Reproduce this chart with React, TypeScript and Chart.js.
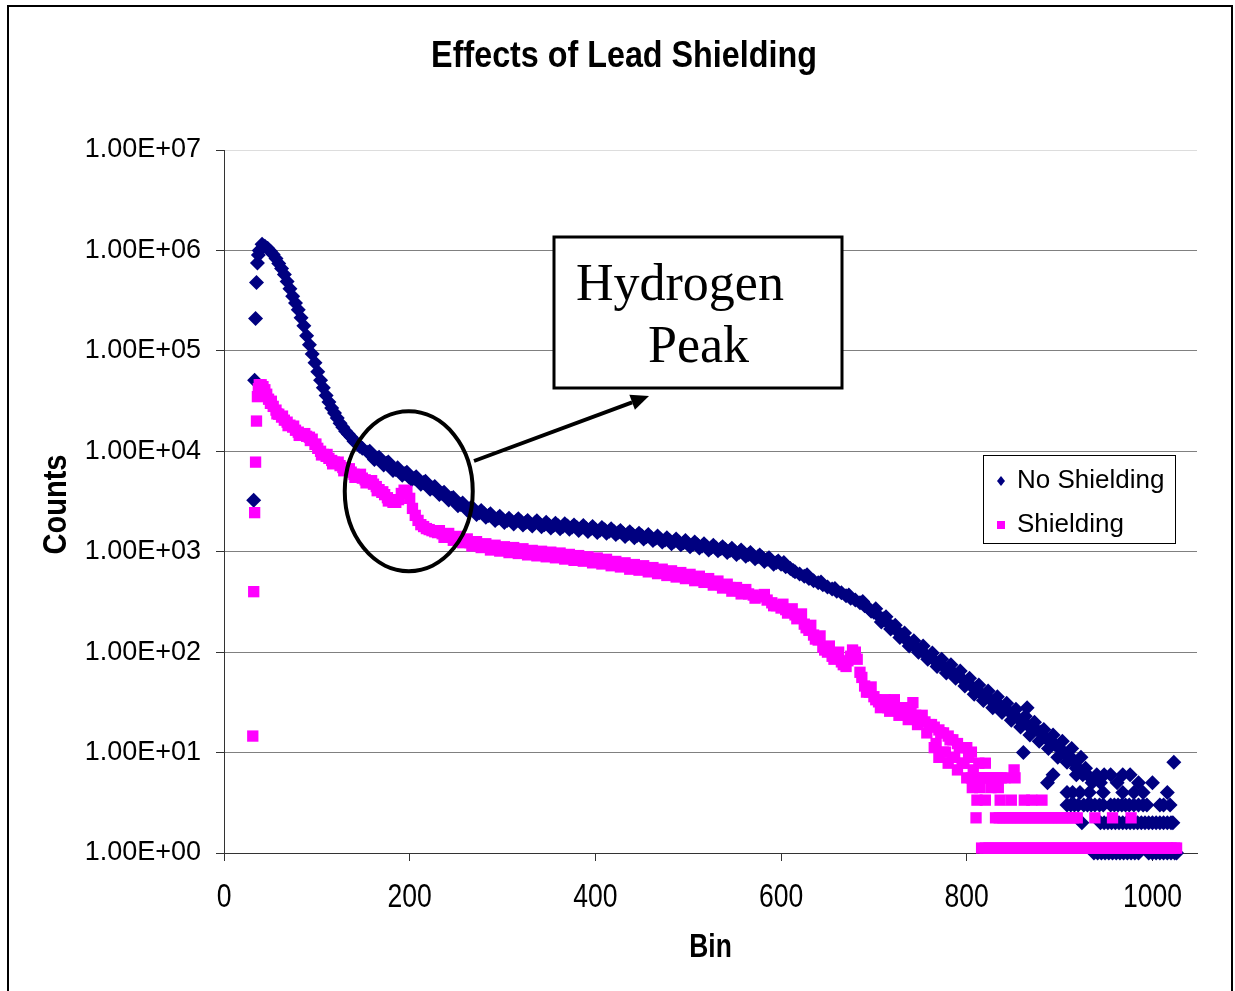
import React, { useEffect, useRef } from "react";
import { Chart, registerables } from "chart.js";

Chart.register(...registerables);

// ---------------- text ----------------
const chartTitle = "Effects of Lead Shielding";
const xAxisTitle = "Bin";
const yAxisTitle = "Counts";
const seriesNames = ["No Shielding", "Shielding"];
const annotationLines = ["Hydrogen", "Peak"];

// ---------------- ticks ----------------
const xTickValues = [0, 200, 400, 600, 800, 1000];
const xTickLabels = ["0", "200", "400", "600", "800", "1000"];
const yTickValues = [1, 10, 100, 1000, 10000, 100000, 1000000, 10000000];
const yTickLabels = ["1.00E+00", "1.00E+01", "1.00E+02", "1.00E+03", "1.00E+04", "1.00E+05", "1.00E+06", "1.00E+07"];

type P = [number, number]; // [bin, counts]

// ---------------- No Shielding ----------------
const noShieldingRise: P[] = [
  [32, 3260], [33, 51000], [34, 210000], [35, 480000], [36, 750000], [37, 900000],
];
const noShieldingCurve: P[] = [
  [38, 1000000], [41, 1150000], [44, 1100000], [47, 1050000], [50, 980000], [53, 910000], [56, 830000], [59, 740000],
  [62, 660000], [65, 575000], [68, 490000], [71, 415000], [74, 350000], [77, 300000], [80, 257000], [83, 214000],
  [86, 178000], [89, 141000], [92, 115000], [95, 93000], [98, 76000], [101, 62000], [104, 51000], [107, 43000],
  [110, 36000], [113, 31000], [116, 27000], [119, 24000], [122, 21400], [125, 19000], [128, 17400], [131, 15800],
  [134, 14800], [137, 13800], [140, 12600], [143, 12000], [146, 11200], [149, 10700],
  [155, 9800], [160, 9100], [165, 8500], [170, 7900], [175, 7600], [180, 7100], [185, 6600], [190, 6300],
  [195, 6000], [200, 5700], [205, 5400], [210, 5100], [215, 4900], [220, 4600], [225, 4300], [230, 4100],
  [235, 3800], [240, 3550], [245, 3400], [250, 3150], [255, 2950], [260, 2800], [265, 2700], [270, 2550],
  [275, 2450], [280, 2400], [285, 2300], [290, 2200], [295, 2150], [300, 2100], [305, 2050], [310, 2000],
  [315, 2030], [320, 1990], [325, 1950], [330, 1900], [335, 1940], [340, 1890], [345, 1860], [350, 1850],
  [355, 1820], [360, 1810], [365, 1780], [370, 1800], [375, 1760], [380, 1740], [385, 1730], [390, 1700],
  [395, 1690], [400, 1660], [405, 1640], [410, 1650], [415, 1600], [420, 1590], [425, 1560], [430, 1520],
  [435, 1510], [440, 1480], [445, 1450], [450, 1440], [455, 1410], [460, 1380], [465, 1360], [470, 1340],
  [475, 1310], [480, 1290], [485, 1270], [490, 1250], [495, 1230], [500, 1200], [505, 1180], [510, 1170],
  [515, 1140], [520, 1120], [525, 1100], [530, 1090], [535, 1070], [540, 1050], [545, 1030], [550, 1010],
  [555, 990], [560, 970], [565, 940], [570, 910], [575, 890], [580, 870], [585, 840], [590, 810],
  [595, 780], [600, 750], [605, 710], [610, 680], [615, 630], [620, 600], [625, 570], [630, 540],
  [635, 515], [640, 490], [645, 470], [650, 445], [655, 425], [660, 405], [665, 390], [670, 365],
  [675, 345], [680, 330], [685, 310], [690, 290], [695, 270], [700, 250], [705, 230], [710, 215],
  [715, 195], [720, 178], [725, 162], [730, 148], [735, 132], [740, 120], [745, 112], [750, 105],
  [755, 96], [760, 89], [765, 83], [770, 78], [775, 72], [780, 68], [785, 63], [790, 59],
  [795, 54], [800, 50], [805, 46], [810, 43], [815, 39], [820, 36], [825, 34], [830, 32],
  [835, 30], [840, 28], [845, 26], [850, 24], [855, 22], [860, 21], [865, 19], [870, 18],
  [875, 17], [880, 16], [885, 14], [890, 13], [895, 12], [900, 11], [905, 10], [910, 9],
  [915, 8], [920, 7], [925, 6],
];
// bin-to-bin fluctuation (150-600)
const noShieldingNoise: P[] = [
  [157, 10000], [162, 8270], [167, 8700], [172, 7300], [177, 7800], [182, 6440], [187, 6840], [192, 5780],
  [197, 6200], [202, 5220], [207, 5570], [212, 4700], [217, 5040], [222, 4180], [227, 4450], [232, 3710],
  [237, 3900], [242, 3270], [247, 3470], [252, 2870], [257, 3050], [262, 2590], [267, 2780], [272, 2350],
  [277, 2570], [282, 2210], [287, 2390], [292, 2050], [297, 2250], [302, 1950], [307, 2150], [312, 1890],
  [317, 2130], [322, 1850], [327, 2040], [332, 1800], [337, 2030], [342, 1770], [347, 1970], [352, 1720],
  [357, 1920], [362, 1690], [367, 1900], [372, 1670], [377, 1850], [382, 1630], [387, 1820], [392, 1590],
  [397, 1780], [402, 1550], [407, 1740], [412, 1530], [417, 1690], [422, 1480], [427, 1630], [432, 1420],
  [437, 1580], [442, 1380], [447, 1530], [452, 1340], [457, 1480], [462, 1290], [467, 1430], [472, 1250],
  [477, 1380], [482, 1200], [487, 1340], [492, 1170], [497, 1290], [502, 1120], [507, 1250], [512, 1090],
  [517, 1200], [522, 1040], [527, 1160], [532, 1020], [537, 1120], [542, 980], [547, 1080], [552, 940],
  [557, 1040], [562, 900], [567, 980], [572, 850], [577, 930], [582, 800], [587, 870], [592, 750],
  [597, 810],
];
const noShieldingScatter: P[] = [
  [603, 780], [613, 650], [628, 590], [643, 500], [658, 430], [673, 370], [688, 320], [697, 255],
  [702, 270], [708, 200], [713, 225], [718, 170], [723, 185], [728, 140], [733, 155], [738, 115],
  [743, 130], [748, 100], [753, 115], [758, 85], [763, 98], [768, 72], [773, 85], [778, 62],
  [783, 75], [788, 55], [793, 65], [798, 46], [803, 55], [808, 38], [813, 47], [818, 33],
  [823, 41], [828, 28], [833, 36], [838, 25], [843, 31], [848, 21], [853, 27], [858, 18],
  [863, 23], [868, 15], [873, 20], [878, 13], [883, 17], [888, 11], [893, 15], [898, 9],
  [903, 13], [908, 8], [913, 11], [918, 7], [923, 9], [861, 10], [865, 28], [887, 5], [893, 6],
];
const noShieldingTail: P[] = [
  [912, 9], [918, 6], [928, 7], [930, 6], [935, 5], [940, 6], [944, 5], [948, 6], [955, 6], [962, 5],
  [968, 6], [976, 6], [985, 5], [1000, 5], [1023, 8],
  [908, 4], [914, 4], [922, 4], [932, 4], [947, 4], [968, 4], [980, 4], [990, 4], [1016, 4],
  [908, 3], [912, 3], [916, 3], [920, 3], [926, 3], [930, 3], [934, 3], [938, 3], [943, 3], [947, 3],
  [955, 3], [959, 3], [963, 3], [967, 3], [971, 3], [975, 3], [980, 3], [985, 3], [990, 3], [994, 3],
  [1008, 3], [1012, 3], [1019, 3],
  [924, 2], [944, 2], [948, 2], [952, 2], [956, 2], [960, 2], [964, 2], [968, 2], [972, 2], [976, 2],
  [980, 2], [984, 2], [988, 2], [992, 2], [996, 2], [1000, 2], [1004, 2], [1008, 2], [1012, 2], [1016, 2],
  [1020, 2], [1022, 2],
  [937, 1], [941, 1], [945, 1], [949, 1], [953, 1], [957, 1], [961, 1], [965, 1], [969, 1], [973, 1],
  [977, 1], [981, 1], [985, 1], [996, 1], [1000, 1], [1004, 1], [1008, 1], [1012, 1], [1016, 1], [1020, 1],
  [1024, 1], [1026, 1],
];

// ---------------- Shielding ----------------
const shieldingRise: P[] = [
  [31, 14.6], [32, 400], [33, 2450], [34, 7800], [35, 20000], [36, 35000], [37, 42000],
];
const shieldingCurve: P[] = [
  [38, 46000], [40, 46000], [42, 44000], [44, 41000], [46, 37000], [48, 33000], [50, 30000], [53, 28000],
  [56, 25700], [59, 23400], [62, 21900], [65, 20400], [68, 19500], [71, 18200], [74, 17400], [77, 16200],
  [80, 15500], [83, 14800], [86, 14500], [89, 14100], [92, 13800], [95, 13200], [98, 11700], [101, 10700],
  [104, 10000], [107, 9300], [110, 8900], [113, 8500], [116, 8100], [119, 7800], [122, 7600], [125, 7200],
  [128, 6900], [131, 6600], [134, 6500], [137, 6200], [140, 5900], [143, 5800], [146, 5600], [149, 5400],
  [152, 5200], [155, 5100], [158, 4900], [161, 4700], [164, 4450], [167, 4150], [170, 3900], [173, 3700],
  [176, 3450], [179, 3250], [182, 3100], [185, 3100], [188, 3300], [191, 3800], [194, 4100], [197, 4000],
  [200, 3400], [203, 2700], [206, 2300], [209, 2050], [212, 1860], [215, 1780], [218, 1700], [221, 1660],
  [224, 1620], [227, 1580], [230, 1550],
  [235, 1510], [240, 1450], [245, 1410], [250, 1350], [255, 1320], [260, 1290], [265, 1230], [270, 1200],
  [275, 1180], [280, 1150], [285, 1120], [290, 1100], [295, 1090], [300, 1070], [305, 1050], [310, 1040],
  [315, 1030], [320, 1020], [325, 1000], [330, 980], [335, 970], [340, 960], [345, 950], [350, 940],
  [355, 930], [360, 920], [365, 910], [370, 890], [375, 880], [380, 870], [385, 860], [390, 850],
  [395, 830], [400, 820], [405, 810], [410, 800], [415, 780], [420, 760], [425, 755], [430, 740],
  [435, 720], [440, 710], [445, 700], [450, 690], [455, 675], [460, 660], [465, 650], [470, 635],
  [475, 625], [480, 615], [485, 600], [490, 590], [495, 580], [500, 570], [505, 555], [510, 540],
  [515, 535], [520, 520], [525, 500], [530, 490], [535, 470], [540, 455], [545, 440], [550, 420],
  [555, 410], [560, 400], [565, 380], [570, 370], [575, 360], [580, 355], [585, 330], [590, 310],
  [595, 290], [600, 275], [605, 265], [610, 250], [615, 235], [620, 220], [625, 190], [630, 165],
  [635, 148], [640, 132], [645, 112], [650, 100], [655, 91], [660, 89], [665, 80], [670, 72],
  [675, 91], [680, 100], [685, 63], [690, 46], [695, 40], [700, 36], [705, 32], [710, 29.1],
  [715, 28], [720, 30.2], [725, 26.9], [730, 25.8], [735, 24.6], [740, 28], [745, 23.5], [750, 21.3],
  [755, 20.2], [760, 19], [765, 17.9], [770, 16.8], [775, 15.7], [780, 14.6], [785, 13.4], [790, 12.3],
  [795, 11.2], [800, 11.2], [805, 10.1],
];
const shieldingNoise: P[] = [
  [51, 31500], [57, 23600], [63, 22400], [69, 18000], [75, 17800], [81, 14400], [87, 15000], [93, 12800],
  [99, 11800], [105, 9200], [111, 9300], [117, 7500], [123, 7800], [129, 6400], [135, 6700], [141, 5500],
  [147, 5900], [153, 4850], [159, 5100], [165, 4050], [171, 3950], [177, 3200],
  [232, 1620], [237, 1390], [242, 1520], [247, 1300], [252, 1420], [257, 1230], [262, 1340], [267, 1140],
  [272, 1260], [277, 1100], [282, 1200], [287, 1040], [292, 1160], [297, 1015], [302, 1120], [307, 980],
  [312, 1100], [317, 960], [322, 1070], [327, 930], [332, 1030], [337, 910], [342, 1010], [347, 890],
  [352, 990], [357, 870], [362, 970], [367, 845], [372, 940], [377, 820], [382, 915], [387, 805],
  [392, 890], [397, 775], [402, 865], [407, 755], [412, 840], [417, 725], [422, 800], [427, 705],
  [432, 775], [437, 670], [442, 745], [447, 655], [452, 725], [457, 630], [462, 695], [467, 605],
  [472, 670], [477, 580], [482, 645], [487, 560], [492, 620], [497, 540], [502, 595], [507, 515],
  [512, 570], [517, 495], [522, 540], [527, 465], [532, 510], [537, 435], [542, 475], [547, 405],
  [552, 440], [557, 380],
];
const shieldingScatter: P[] = [
  [562, 420], [572, 345], [582, 375], [592, 290], [602, 300], [607, 245], [612, 270], [617, 215],
  [622, 240], [627, 175], [632, 185], [637, 135], [642, 145], [647, 105], [652, 115], [657, 85],
  [662, 100], [667, 75], [672, 82], [677, 105], [682, 85], [687, 56], [692, 40], [697, 45],
  [702, 33.6], [707, 28], [712, 33.6], [717, 25.8], [722, 33.6], [727, 23.5], [732, 28], [737, 21.3],
  [742, 31.4], [747, 19], [752, 23.5], [757, 15.7], [762, 19], [767, 12.3], [772, 15.7], [777, 10.1],
  [782, 13.4], [787, 8.96], [792, 11.2], [797, 7.84], [802, 8.96], [807, 6.72],
  [765, 11.2], [770, 8.96], [775, 10.1], [780, 7.84], [785, 8.96], [790, 6.72], [795, 7.84], [800, 5.6],
];
const shieldingTail: P[] = [
  [813, 7.84], [820, 7.84], [851, 6.72],
  [805, 5.6], [809, 5.6], [813, 5.6], [817, 5.6], [821, 5.6], [825, 5.6], [829, 5.6], [833, 5.6],
  [837, 5.6], [841, 5.6], [852, 5.6],
  [806, 4.48], [814, 4.48], [826, 4.48], [834, 4.48],
  [811, 3.36], [820, 3.36], [836, 3.36], [848, 3.36], [862, 3.36], [870, 3.36], [881, 3.36],
  [810, 2.24], [831, 2.24], [835, 2.24], [839, 2.24], [843, 2.24], [847, 2.24], [851, 2.24], [855, 2.24],
  [859, 2.24], [863, 2.24], [867, 2.24], [871, 2.24], [875, 2.24], [879, 2.24], [883, 2.24], [887, 2.24],
  [891, 2.24], [895, 2.24], [899, 2.24], [903, 2.24], [907, 2.24], [911, 2.24], [915, 2.24], [919, 2.24],
  [938, 2.24], [957, 2.24], [977, 2.24],
  [816, 1.12], [820, 1.12], [824, 1.12], [828, 1.12], [832, 1.12], [836, 1.12], [840, 1.12], [844, 1.12],
  [848, 1.12], [852, 1.12], [856, 1.12], [860, 1.12], [864, 1.12], [868, 1.12], [872, 1.12], [876, 1.12],
  [880, 1.12], [884, 1.12], [888, 1.12], [892, 1.12], [896, 1.12], [900, 1.12], [904, 1.12], [908, 1.12],
  [912, 1.12], [916, 1.12], [920, 1.12], [924, 1.12], [928, 1.12], [932, 1.12], [936, 1.12], [940, 1.12],
  [944, 1.12], [948, 1.12], [952, 1.12], [956, 1.12], [960, 1.12], [964, 1.12], [968, 1.12], [972, 1.12],
  [976, 1.12], [980, 1.12], [984, 1.12], [988, 1.12], [992, 1.12], [996, 1.12], [1000, 1.12], [1004, 1.12],
  [1008, 1.12], [1012, 1.12], [1016, 1.12], [1020, 1.12], [1024, 1.12], [1026, 1.12],
];

// annotation anchor (data coordinates of the circled hydrogen peak)
const peakCenter: P = [199, 4000];

// ---------------- styles ----------------
const NAVY = "#000080";
const MAGENTA = "#FF00FF";
const SANS = "'Liberation Sans', Arial, Helvetica, sans-serif";
const SERIF = "'Liberation Serif', 'Times New Roman', serif";

const toXY = (pts: P[]) => pts.map(([x, y]) => ({ x, y }));

// draws text horizontally condensed (to imitate a narrow face)
function narrowText(
  ctx: CanvasRenderingContext2D, text: string, x: number, y: number,
  font: string, sx: number, rotate = 0,
) {
  ctx.save();
  ctx.translate(x, y);
  if (rotate) ctx.rotate(rotate);
  ctx.scale(sx, 1);
  ctx.font = font;
  ctx.textAlign = "center";
  ctx.textBaseline = "middle";
  ctx.fillStyle = "#000";
  ctx.fillText(text, 0, 0);
  ctx.restore();
}

const decorPlugin = {
  id: "decor",
  beforeDraw(chart: any) {
    const { ctx, width, height } = chart;
    ctx.save();
    ctx.fillStyle = "#ffffff";
    ctx.fillRect(0, 0, width, height);
    ctx.restore();
  },
  afterDraw(chart: any) {
    const ctx: CanvasRenderingContext2D = chart.ctx;
    const xs = chart.scales.x;
    const ys = chart.scales.y;
    const area = chart.chartArea;
    ctx.save();

    // outer frame
    ctx.strokeStyle = "#000";
    ctx.lineWidth = 2;
    ctx.strokeRect(8, 6, 1224, 1010);

    // title and axis titles / x tick labels (condensed face)
    narrowText(ctx, chartTitle, 624, 57, `bold 36px ${SANS}`, 0.897);
    xTickValues.forEach((v, i) => {
      narrowText(ctx, xTickLabels[i], xs.getPixelForValue(v), 898, `34px ${SANS}`, 0.78);
    });
    narrowText(ctx, xAxisTitle, (area.left + area.right) / 2, 948, `bold 33px ${SANS}`, 0.8);
    narrowText(ctx, yAxisTitle, 57, (area.top + area.bottom) / 2 + 3, `bold 33px ${SANS}`, 0.88, -Math.PI / 2);

    // ellipse around the hydrogen peak
    const cx = xs.getPixelForValue(peakCenter[0]);
    const cy = ys.getPixelForValue(peakCenter[1]);
    ctx.beginPath();
    ctx.ellipse(cx, cy, 64, 80, 0, 0, Math.PI * 2);
    ctx.lineWidth = 4;
    ctx.strokeStyle = "#000";
    ctx.stroke();

    // arrow
    const ax0 = 474, ay0 = 461, ax1 = 649, ay1 = 396;
    const ang = Math.atan2(ay1 - ay0, ax1 - ax0);
    const headLen = 18, headW = 8;
    const bx = ax1 - headLen * Math.cos(ang), by = ay1 - headLen * Math.sin(ang);
    ctx.beginPath();
    ctx.moveTo(ax0, ay0);
    ctx.lineTo(bx, by);
    ctx.lineWidth = 4;
    ctx.stroke();
    ctx.beginPath();
    ctx.moveTo(ax1, ay1);
    ctx.lineTo(bx + headW * Math.sin(ang), by - headW * Math.cos(ang));
    ctx.lineTo(bx - headW * Math.sin(ang), by + headW * Math.cos(ang));
    ctx.closePath();
    ctx.fillStyle = "#000";
    ctx.fill();

    // annotation box
    ctx.fillStyle = "#fff";
    ctx.fillRect(554, 237, 288, 151);
    ctx.lineWidth = 3;
    ctx.strokeRect(554, 237, 288, 151);
    ctx.fillStyle = "#000";
    ctx.font = `52px ${SERIF}`;
    ctx.textAlign = "left";
    ctx.textBaseline = "alphabetic";
    ctx.fillText(annotationLines[0], 576, 300);
    ctx.fillText(annotationLines[1], 648, 362);

    // legend
    ctx.fillStyle = "#fff";
    ctx.fillRect(983, 455, 192, 88);
    ctx.lineWidth = 1;
    ctx.strokeStyle = "#000";
    ctx.strokeRect(983.5, 455.5, 192, 88);
    ctx.fillStyle = NAVY;
    ctx.beginPath();
    ctx.moveTo(1001, 476);
    ctx.lineTo(1005, 481);
    ctx.lineTo(1001, 486);
    ctx.lineTo(997, 481);
    ctx.closePath();
    ctx.fill();
    ctx.fillStyle = MAGENTA;
    ctx.fillRect(997, 521, 8, 8);
    ctx.fillStyle = "#000";
    ctx.font = `26px ${SANS}`;
    ctx.textBaseline = "middle";
    ctx.fillText(seriesNames[0], 1017, 481);
    ctx.fillText(seriesNames[1], 1017, 525);

    ctx.restore();
  },
};

export default function App() {
  const canvasRef = useRef<HTMLCanvasElement | null>(null);

  useEffect(() => {
    if (!canvasRef.current) return;
    const chart = new Chart(canvasRef.current, {
      type: "scatter",
      data: {
        datasets: [
          {
            label: seriesNames[0],
            data: toXY([...noShieldingRise, ...noShieldingCurve, ...noShieldingNoise, ...noShieldingScatter, ...noShieldingTail]),
            pointStyle: "rectRot",
            pointRadius: 7.5,
            pointBackgroundColor: NAVY,
            pointBorderColor: NAVY,
            pointBorderWidth: 0,
            backgroundColor: NAVY,
            borderColor: NAVY,
            order: 1,
            clip: false,
          },
          {
            label: seriesNames[1],
            data: toXY([...shieldingRise, ...shieldingCurve, ...shieldingNoise, ...shieldingScatter, ...shieldingTail]),
            pointStyle: "rect",
            pointRadius: 8,
            pointBackgroundColor: MAGENTA,
            pointBorderColor: MAGENTA,
            pointBorderWidth: 0,
            backgroundColor: MAGENTA,
            borderColor: MAGENTA,
            order: 0,
            clip: false,
          },
        ],
      },
      options: {
        animation: false,
        responsive: true,
        maintainAspectRatio: false,
        devicePixelRatio: 1,
        events: [],
        layout: { padding: { left: 0, right: 38, top: 150, bottom: 0 } },
        plugins: {
          legend: { display: false },
          title: { display: false },
          tooltip: { enabled: false },
        },
        scales: {
          x: {
            type: "linear",
            min: 0,
            max: 1048,
            afterFit: (s: any) => { s.height = 138; },
            afterBuildTicks: (s: any) => { s.ticks = xTickValues.map((v) => ({ value: v })); },
            ticks: { display: false },
            grid: { drawOnChartArea: false, drawTicks: true, tickLength: 8, tickColor: "#333", lineWidth: 1 },
            border: { display: true, color: "#333", width: 1 },
            title: { display: false },
          },
          y: {
            type: "logarithmic",
            min: 1,
            max: 10000000,
            afterFit: (s: any) => { s.width = 224; },
            afterBuildTicks: (s: any) => { s.ticks = yTickValues.map((v) => ({ value: v })); },
            ticks: {
              callback: (_v: any, i: number) => yTickLabels[i],
              font: { family: SANS, size: 27 },
              color: "#000",
              padding: 15,
            },
            grid: {
              color: (c: any) => (c.tick && c.tick.value === 10000000 ? "#dddddd" : "#808080"),
              lineWidth: 1,
              drawTicks: true,
              tickLength: 8,
              tickColor: "#333",
            },
            border: { display: true, color: "#333", width: 1 },
            title: { display: false },
          },
        },
      },
      plugins: [decorPlugin],
    });
    return () => chart.destroy();
  }, []);

  return (
    <div style={{ position: "absolute", left: 0, top: 0, width: 1235, height: 991, background: "#fff" }}>
      <canvas ref={canvasRef} />
    </div>
  );
}
